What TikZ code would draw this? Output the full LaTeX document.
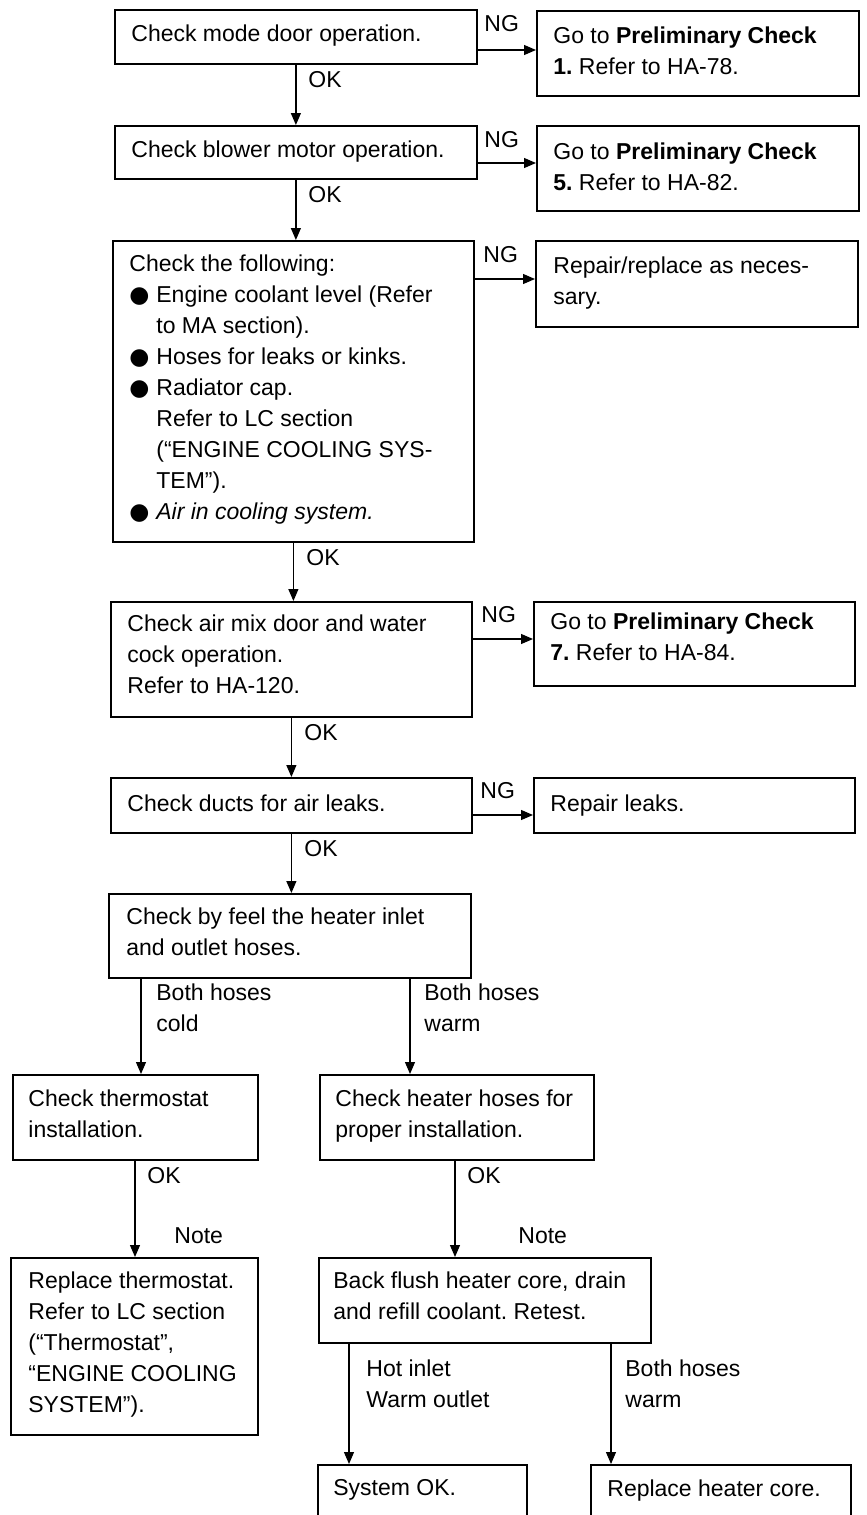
\documentclass[tikz,border=0pt]{standalone}
\usepackage{fontspec}
\setmainfont{Liberation Sans}
\newfontfamily\dejavu{DejaVu Sans}
\usetikzlibrary{arrows.meta}
\newcommand\bul{\makebox[13.5pt][l]{\dejavu\fontsize{11.5pt}{11.5pt}\selectfont ●}}
\newcommand\ind{\hspace*{13.5pt}}
\newcommand\boxnode[5]{%
  \pgfmathsetmacro\bw{((#4)-(#2))/2}%
  \pgfmathsetmacro\bh{((#5)-(#3))/2}%
  \node[box,minimum width=\bw pt,minimum height=\bh pt] (#1) at (#2,#3) {};}
\frenchspacing
\begin{document}
\begin{tikzpicture}[x=0.5pt,y=-0.5pt,
  font=\fontsize{11.5pt}{15.5pt}\selectfont\frenchspacing,
  box/.style={draw,line width=0.9pt,anchor=north west,inner sep=0pt},
  txt/.style={anchor=north west,inner sep=0pt,align=left,yshift=8pt},
  lbl/.style={anchor=base west,inner sep=0pt},
  arr/.style={line width=0.6pt,-{Triangle[length=6pt,width=5pt]}}]
\useasboundingbox (0,0) rectangle (867,1515);

% Row A
\boxnode{A}{114}{9}{476}{63}
\node[txt] (At) at (131,40) {Check mode door operation.};
\boxnode{Ap}{536}{10}{858}{95}
\node[txt] (Apt) at (553,42) {Go to \textbf{Preliminary Check}\\\textbf{1.} Refer to HA-78.};
\coordinate (yA) at (0,50);
\draw[arr] (A.east |- yA) -- (Ap.west |- yA);
\node[lbl] (ngA) at (484,32) {NG};
\node[lbl] (okA) at (308,87) {OK};

% Row B
\boxnode{B}{114}{125}{476}{178}
\node[txt] (Bt) at (131,156) {Check blower motor operation.};
\boxnode{Bp}{536}{125}{858}{210}
\node[txt] (Bpt) at (553,158) {Go to \textbf{Preliminary Check}\\\textbf{5.} Refer to HA-82.};
\coordinate (yB) at (0,163);
\draw[arr] (B.east |- yB) -- (Bp.west |- yB);
\node[lbl] (ngB) at (484,147) {NG};
\node[lbl] (okB) at (308,202) {OK};
\draw[arr] (A.south) -- (A.south |- B.north);

% Row C
\boxnode{C}{112}{240}{473}{541}
\node[txt] (Ct) at (129,270) {Check the following:\\\bul Engine coolant level (Refer\\\ind to MA section).\\\bul Hoses for leaks or kinks.\\\bul Radiator cap.\\\ind Refer to LC section\\\ind (“ENGINE COOLING SYS-\\\ind TEM”).\\\bul \textit{Air in cooling system.}};
\boxnode{Cp}{535}{240}{857}{326}
\node[txt] (Cpt) at (553,272) {Repair/replace as neces-\\sary.};
\coordinate (yC) at (0,279);
\draw[arr] (C.east |- yC) -- (Cp.west |- yC);
\node[lbl] (ngC) at (483,262) {NG};
\draw[arr] (B.south) -- (B.south |- C.north);
\node[lbl] (okC) at (306,565) {OK};

% Row D
\boxnode{D}{110}{601}{471}{716}
\node[txt] (Dt) at (127,630) {Check air mix door and water\\cock operation.\\Refer to HA-120.};
\boxnode{Dp}{533}{601}{854}{685}
\node[txt] (Dpt) at (550,628) {Go to \textbf{Preliminary Check}\\\textbf{7.} Refer to HA-84.};
\coordinate (yD) at (0,639);
\draw[arr] (D.east |- yD) -- (Dp.west |- yD);
\node[lbl] (ngD) at (481,622) {NG};
\draw[arr] (C.south) -- (C.south |- D.north);
\node[lbl] (okD) at (304,740) {OK};

% Row E
\boxnode{E}{110}{777}{471}{832}
\node[txt] (Et) at (127,810) {Check ducts for air leaks.};
\boxnode{Ep}{533}{777}{854}{832}
\node[txt] (Ept) at (550,810) {Repair leaks.};
\coordinate (yE) at (0,815);
\draw[arr] (E.east |- yE) -- (Ep.west |- yE);
\node[lbl] (ngE) at (480,798) {NG};
\draw[arr] (D.south) -- (D.south |- E.north);
\node[lbl] (okE) at (304,856) {OK};

% Row F
\boxnode{F}{108}{893}{470}{977}
\node[txt] (Ft) at (126,923) {Check by feel the heater inlet\\and outlet hoses.};
\draw[arr] (E.south) -- (E.south |- F.north);

\coordinate (xL1) at (141,0);
\coordinate (xR1) at (410,0);
\coordinate (xL2) at (135,0);
\coordinate (xR2) at (455,0);
\coordinate (xL3) at (349,0);
\coordinate (xR3) at (611,0);

\node[txt] (lcold) at (156,999) {Both hoses\\cold};
\node[txt] (lwarm) at (424,999) {Both hoses\\warm};

% Row G/H
\boxnode{G}{12}{1074}{257}{1159}
\node[txt] (Gt) at (28,1105) {Check thermostat\\installation.};
\boxnode{H}{319}{1074}{593}{1159}
\node[txt] (Ht) at (335,1105) {Check heater hoses for\\proper installation.};
\draw[arr] (F.south -| xL1) -- (G.north -| xL1);
\draw[arr] (F.south -| xR1) -- (H.north -| xR1);
\node[lbl] (okG) at (147,1183) {OK};
\node[lbl] (okH) at (467,1183) {OK};
\node[lbl] (noteL) at (174,1243) {Note};
\node[lbl] (noteR) at (518,1243) {Note};

% Row I/J
\boxnode{I}{10}{1257}{257}{1434}
\node[txt] (It) at (28,1287) {Replace thermostat.\\Refer to LC section\\(“Thermostat”,\\“ENGINE COOLING\\SYSTEM”).};
\boxnode{J}{318}{1257}{650}{1342}
\node[txt] (Jt) at (333,1287) {Back flush heater core, drain\\and refill coolant. Retest.};
\draw[arr] (G.south -| xL2) -- (I.north -| xL2);
\draw[arr] (H.south -| xR2) -- (J.north -| xR2);

\node[txt] (lhot) at (366,1375) {Hot inlet\\Warm outlet};
\node[txt] (lboth) at (625,1375) {Both hoses\\warm};

% Row K/L
\boxnode{K}{317}{1464}{526}{1545}
\node[txt] (Kt) at (333,1495) {System OK.};
\boxnode{L}{590}{1464}{850}{1545}
\node[txt] (Lt) at (607,1495) {Replace heater core.};
\draw[arr] (J.south -| xL3) -- (K.north -| xL3);
\draw[arr] (J.south -| xR3) -- (L.north -| xR3);
\end{tikzpicture}
\end{document}
